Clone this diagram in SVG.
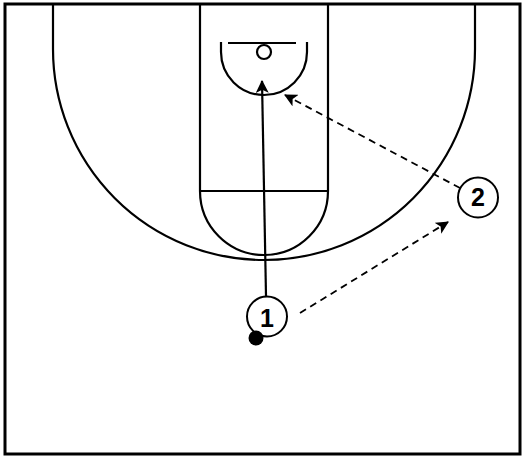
<svg xmlns="http://www.w3.org/2000/svg" width="525" height="458" viewBox="0 0 525 458">
<defs>
<marker id="ah" viewBox="0 0 12 12" refX="11" refY="6" markerWidth="13" markerHeight="13" markerUnits="userSpaceOnUse" orient="auto">
<path d="M0,0 L12,6 L0,12 L3,6 Z" fill="#000"/>
</marker>
<style>
.ln{fill:none;stroke:#000;stroke-width:2.2}
.pl{fill:#fff;stroke:#000;stroke-width:2}
.lb{font-family:"Liberation Sans",Arial,sans-serif;font-weight:bold;font-size:25px;text-anchor:middle;fill:#000}
.ds{fill:none;stroke:#000;stroke-width:1.8;stroke-dasharray:7,5}
</style>
</defs>
<rect x="0" y="0" width="525" height="458" fill="#fff"/>
<g id="court">
<rect x="5" y="4" width="515" height="450" fill="none" stroke="#000" stroke-width="3"/>
<path class="ln" d="M53,4 L53,49 A211,211 0 0 0 475,49 L475,4"/>
<path class="ln" d="M200,4 L200,191 M328,4 L328,191 M200,191 L328,191"/>
<path class="ln" d="M200,191 A64,64 0 0 0 328,191"/>
<path class="ln" d="M228,43 L296,43"/>
<circle class="ln" cx="264" cy="52" r="7"/>
<path class="ln" d="M221,42 L221,52 A43,43 0 0 0 307,52 L307,42"/>
</g>
<g id="connectors">
<line class="ln" x1="266" y1="296" x2="262" y2="81" stroke-width="1.8" marker-end="url(#ah)"/>
<line class="ds" x1="300" y1="313" x2="448" y2="222" marker-end="url(#ah)"/>
<line class="ds" x1="460" y1="188" x2="285" y2="95" marker-end="url(#ah)"/>
</g>
<g id="player1">
<circle class="pl" cx="267" cy="316.5" r="20"/>
<text class="lb" x="267" y="327">1</text>
<circle cx="256" cy="338" r="7.5" fill="#000"/>
</g>
<g id="player2">
<circle class="pl" cx="478" cy="197.5" r="20"/>
<text class="lb" x="478" y="206">2</text>
</g>
</svg>
